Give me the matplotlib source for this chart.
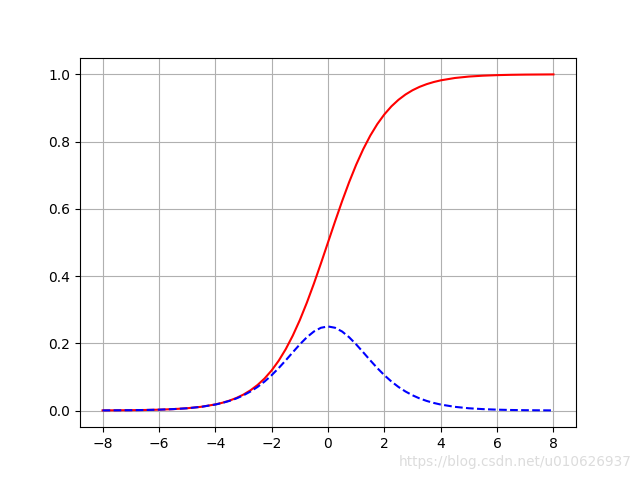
import matplotlib
matplotlib.use("Agg")
import matplotlib.pyplot as plt

# values
x = [-8.0, -7.5, -7.0, -6.5, -6.0, -5.5, -5.0, -4.5, -4.0, -3.75, -3.5, -3.25,
     -3.0, -2.75, -2.5, -2.25, -2.0, -1.75, -1.5, -1.25, -1.0, -0.75, -0.5,
     -0.25, 0.0, 0.25, 0.5, 0.75, 1.0, 1.25, 1.5, 1.75, 2.0, 2.25, 2.5, 2.75,
     3.0, 3.25, 3.5, 3.75, 4.0, 4.5, 5.0, 5.5, 6.0, 6.5, 7.0, 7.5, 8.0]

red_curve = [0.0003, 0.0006, 0.0009, 0.0015, 0.0025, 0.0041, 0.0067, 0.0110,
             0.0180, 0.0230, 0.0293, 0.0373, 0.0474, 0.0601, 0.0759, 0.0953,
             0.1192, 0.1480, 0.1824, 0.2227, 0.2689, 0.3208, 0.3775, 0.4378,
             0.5000, 0.5622, 0.6225, 0.6792, 0.7311, 0.7773, 0.8176, 0.8520,
             0.8808, 0.9047, 0.9241, 0.9399, 0.9526, 0.9627, 0.9707, 0.9770,
             0.9820, 0.9890, 0.9933, 0.9959, 0.9975, 0.9985, 0.9991, 0.9994,
             0.9997]

blue_curve = [0.0003, 0.0006, 0.0009, 0.0015, 0.0025, 0.0041, 0.0066, 0.0109,
              0.0177, 0.0225, 0.0285, 0.0359, 0.0452, 0.0565, 0.0701, 0.0862,
              0.1050, 0.1261, 0.1491, 0.1731, 0.1966, 0.2179, 0.2350, 0.2461,
              0.2500, 0.2461, 0.2350, 0.2179, 0.1966, 0.1731, 0.1491, 0.1261,
              0.1050, 0.0862, 0.0701, 0.0565, 0.0452, 0.0359, 0.0285, 0.0225,
              0.0177, 0.0109, 0.0066, 0.0041, 0.0025, 0.0015, 0.0009, 0.0006,
              0.0003]

fig, ax = plt.subplots(figsize=(6.4, 4.8), dpi=100)
ax.plot(x, red_curve, "r-")
ax.plot(x, blue_curve, "b--")
ax.grid(True)

fig.text(0.987, 0.038, "https://blog.csdn.net/u010626937", color="#dcdcdc",
         fontsize=9.8, ha="right", va="center")

fig.savefig("out.png", dpi=100)
